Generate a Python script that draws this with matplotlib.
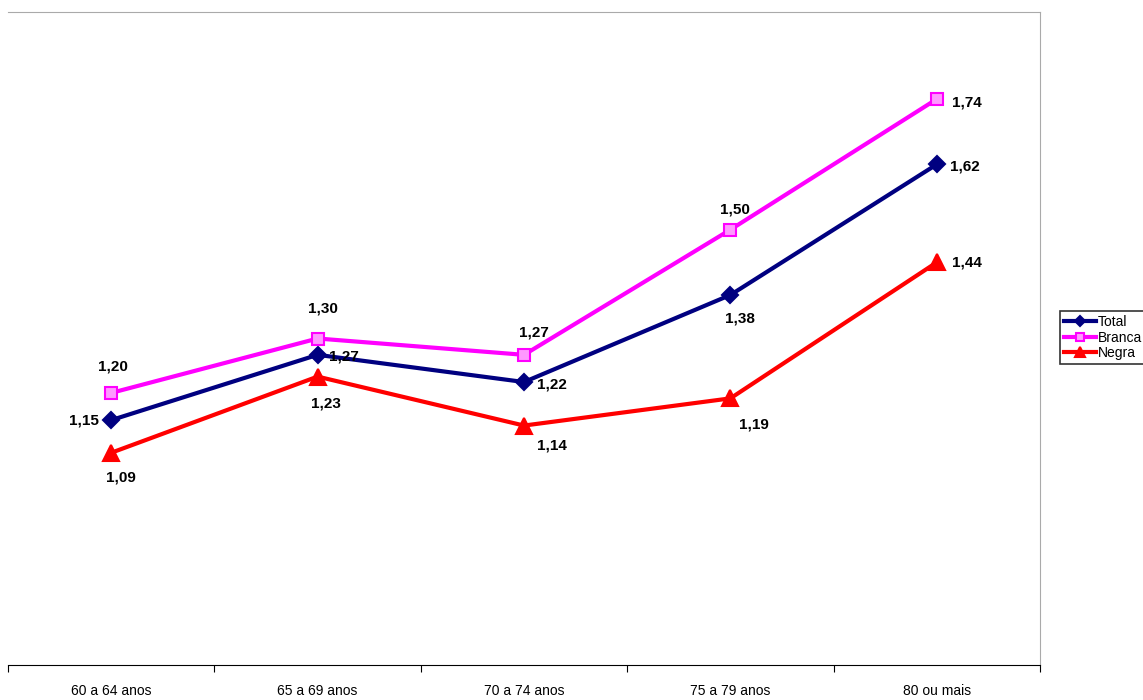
import matplotlib.pyplot as plt
import numpy as np

categories = ["60 a 64 anos", "65 a 69 anos", "70 a 74 anos", "75 a 79 anos", "80 ou mais"]
total = [1.15, 1.27, 1.22, 1.38, 1.62]
branca = [1.20, 1.30, 1.27, 1.50, 1.74]
negra = [1.09, 1.23, 1.14, 1.19, 1.44]

# label offsets in pixels (dx, dy) per point
off_total = [(-27, 0), (26, -2), (28, -2), (10, -24), (28, -2)]
off_branca = [(2, 26), (5, 30), (10, 22), (5, 20), (30, -3)]
off_negra = [(10, -25), (8, -27), (28, -20), (24, -26), (30, 0)]

fig = plt.figure(figsize=(11.43, 7.0), dpi=100)
ax = fig.add_axes([8 / 1143, 35 / 700, 1032 / 1143, 653 / 700])
x = np.arange(len(categories))

series = [
    ("Total", total, "#000080", "D", 8, off_total),
    ("Branca", branca, "#FF00FF", "s", 9, off_branca),
    ("Negra", negra, "#FF0000", "^", 11, off_negra),
]
for name, vals, col, mk, ms, offs in series:
    ax.plot(x, vals, color=col, lw=3, marker=mk, ms=ms, label=name,
            markerfacecolor=col if name != "Branca" else "#FF99FF",
            markeredgecolor=col, markeredgewidth=1.5)
    for xi, v, (dx, dy) in zip(x, vals, offs):
        ax.annotate(f"{v:.2f}".replace(".", ","), (xi, v), xytext=(dx * 0.72, dy * 0.72),
                    textcoords="offset points", ha="center", va="center",
                    fontsize=11, fontweight="bold", family="Liberation Sans")

ax.set_xlim(-0.5, 4.5)
ax.set_ylim(0.7, 1.9)
ax.set_yticks([])
ax.set_xticks(np.arange(-0.5, 5, 1))
ax.set_xticklabels([])
ax.set_xticks(x, minor=True)
ax.set_xticklabels(categories, minor=True, fontsize=10, family="Liberation Sans")
ax.tick_params(axis="x", which="minor", length=0, pad=14)
ax.tick_params(axis="x", which="major", length=5, direction="out")
for s in ["top", "left", "right"]:
    ax.spines[s].set_color("#aaaaaa")
ax.spines["left"].set_visible(False)

leg = fig.legend(loc="upper left", bbox_to_anchor=(1053 / 1143, 1 - 304 / 700),
                 frameon=True, fancybox=False, edgecolor="black",
                 prop={"family": "Liberation Sans", "size": 10}, markerscale=0.7,
                 handlelength=2.3, borderpad=0.3, labelspacing=0.1, handletextpad=0.15)
leg.get_frame().set_linewidth(1.2)

fig.savefig("out.png", dpi=100)
